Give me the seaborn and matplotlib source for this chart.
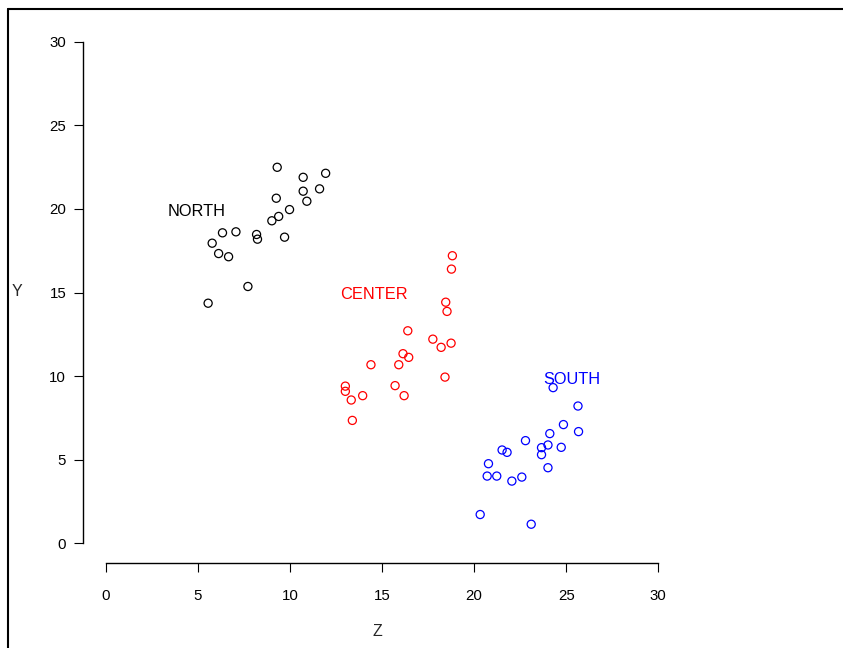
import matplotlib
matplotlib.use("Agg")
import matplotlib.pyplot as plt
import seaborn as sns
import pandas as pd
from matplotlib.lines import Line2D

sns.set_style("white")
plt.rcParams['font.family'] = ['Liberation Sans', 'DejaVu Sans']

# values
north_z = [9.31, 10.72, 11.94, 10.72, 11.61, 9.26, 10.92, 9.98, 9.39, 9.02,
           6.34, 7.07, 8.19, 8.24, 9.71, 5.78, 6.13, 6.67, 7.72, 5.56]
north_y = [22.49, 21.89, 22.13, 21.06, 21.20, 20.64, 20.46, 19.96, 19.55, 19.29,
           18.57, 18.63, 18.47, 18.19, 18.31, 17.95, 17.33, 17.14, 15.36, 14.36]
center_z = [18.82, 18.77, 18.46, 18.53, 16.40, 17.76, 18.21, 18.75, 16.14, 16.45,
            14.40, 15.91, 18.42, 13.01, 13.01, 15.71, 13.95, 13.33, 16.20, 13.39]
center_y = [17.20, 16.40, 14.42, 13.87, 12.71, 12.21, 11.72, 11.97, 11.34, 11.12,
            10.68, 10.68, 9.94, 9.40, 9.09, 9.43, 8.83, 8.57, 8.83, 7.35]
south_z = [24.29, 25.64, 24.85, 25.67, 24.11, 22.79, 23.66, 24.01, 24.73, 21.52,
           21.79, 23.66, 20.78, 24.01, 20.71, 21.23, 22.59, 22.05, 20.33, 23.10]
south_y = [9.31, 8.21, 7.10, 6.68, 6.56, 6.14, 5.72, 5.88, 5.74, 5.58,
           5.44, 5.30, 4.76, 4.52, 4.02, 4.02, 3.96, 3.72, 1.72, 1.14]

groups = ['NORTH', 'CENTER', 'SOUTH']
colors = ['black', 'red', 'blue']
label_pos = [(4.95, 19.85), (14.57, 14.88), (25.33, 9.80)]

df = pd.concat([
    pd.DataFrame({'Z': north_z, 'Y': north_y, 'region': 'NORTH'}),
    pd.DataFrame({'Z': center_z, 'Y': center_y, 'region': 'CENTER'}),
    pd.DataFrame({'Z': south_z, 'Y': south_y, 'region': 'SOUTH'}),
])

fig = plt.figure(figsize=(8.43, 6.48), dpi=100)
ax = fig.add_axes([0.1254, 0.1616, 0.6555, 0.774])

for g, c, (lx, ly) in zip(groups, colors, label_pos):
    sub = df[df['region'] == g]
    sns.scatterplot(data=sub, x='Z', y='Y', ax=ax, color=c, facecolor='none',
                    edgecolor=c, linewidth=0.9, s=34, legend=False)
    ax.text(lx, ly, g, color=c, fontsize=11.8, ha='center', va='center')

ax.set_xlim(0, 30)
ax.set_ylim(0, 30)
ax.set_xticks([0, 5, 10, 15, 20, 25, 30])
ax.set_yticks([0, 5, 10, 15, 20, 25, 30])

for side in ['top', 'right']:
    ax.spines[side].set_visible(False)
ax.spines['bottom'].set_position(('outward', 14.5))
ax.spines['left'].set_position(('outward', 16))
for side in ['bottom', 'left']:
    ax.spines[side].set_color('black')
    ax.spines[side].set_linewidth(1.0)

ax.tick_params(axis='x', direction='out', length=6.5, width=0.8, pad=12,
               labelsize=10.8, colors='black', bottom=True)
ax.tick_params(axis='y', direction='out', length=6.5, width=0.8, pad=6,
               labelsize=10.8, colors='black', left=True)

ax.set_xlabel('Z', fontsize=11.5)
ax.set_ylabel('Y', fontsize=11.5, rotation=0)
ax.xaxis.set_label_coords(377 / 843, 1 - 631 / 648, transform=fig.transFigure)
ax.yaxis.set_label_coords(17 / 843, 1 - 292 / 648, transform=fig.transFigure)
ax.xaxis.label.set_va('center')
ax.yaxis.label.set_va('center')
ax.yaxis.label.set_ha('center')

# frame lines at the top and left edge of the picture
fig.add_artist(Line2D([8 / 843, 1], [1 - 9 / 648, 1 - 9 / 648],
                      transform=fig.transFigure, color='black', linewidth=1.5))
fig.add_artist(Line2D([8 / 843, 8 / 843], [0, 1 - 9 / 648],
                      transform=fig.transFigure, color='black', linewidth=1.5))

fig.savefig('out.png', dpi=100)
